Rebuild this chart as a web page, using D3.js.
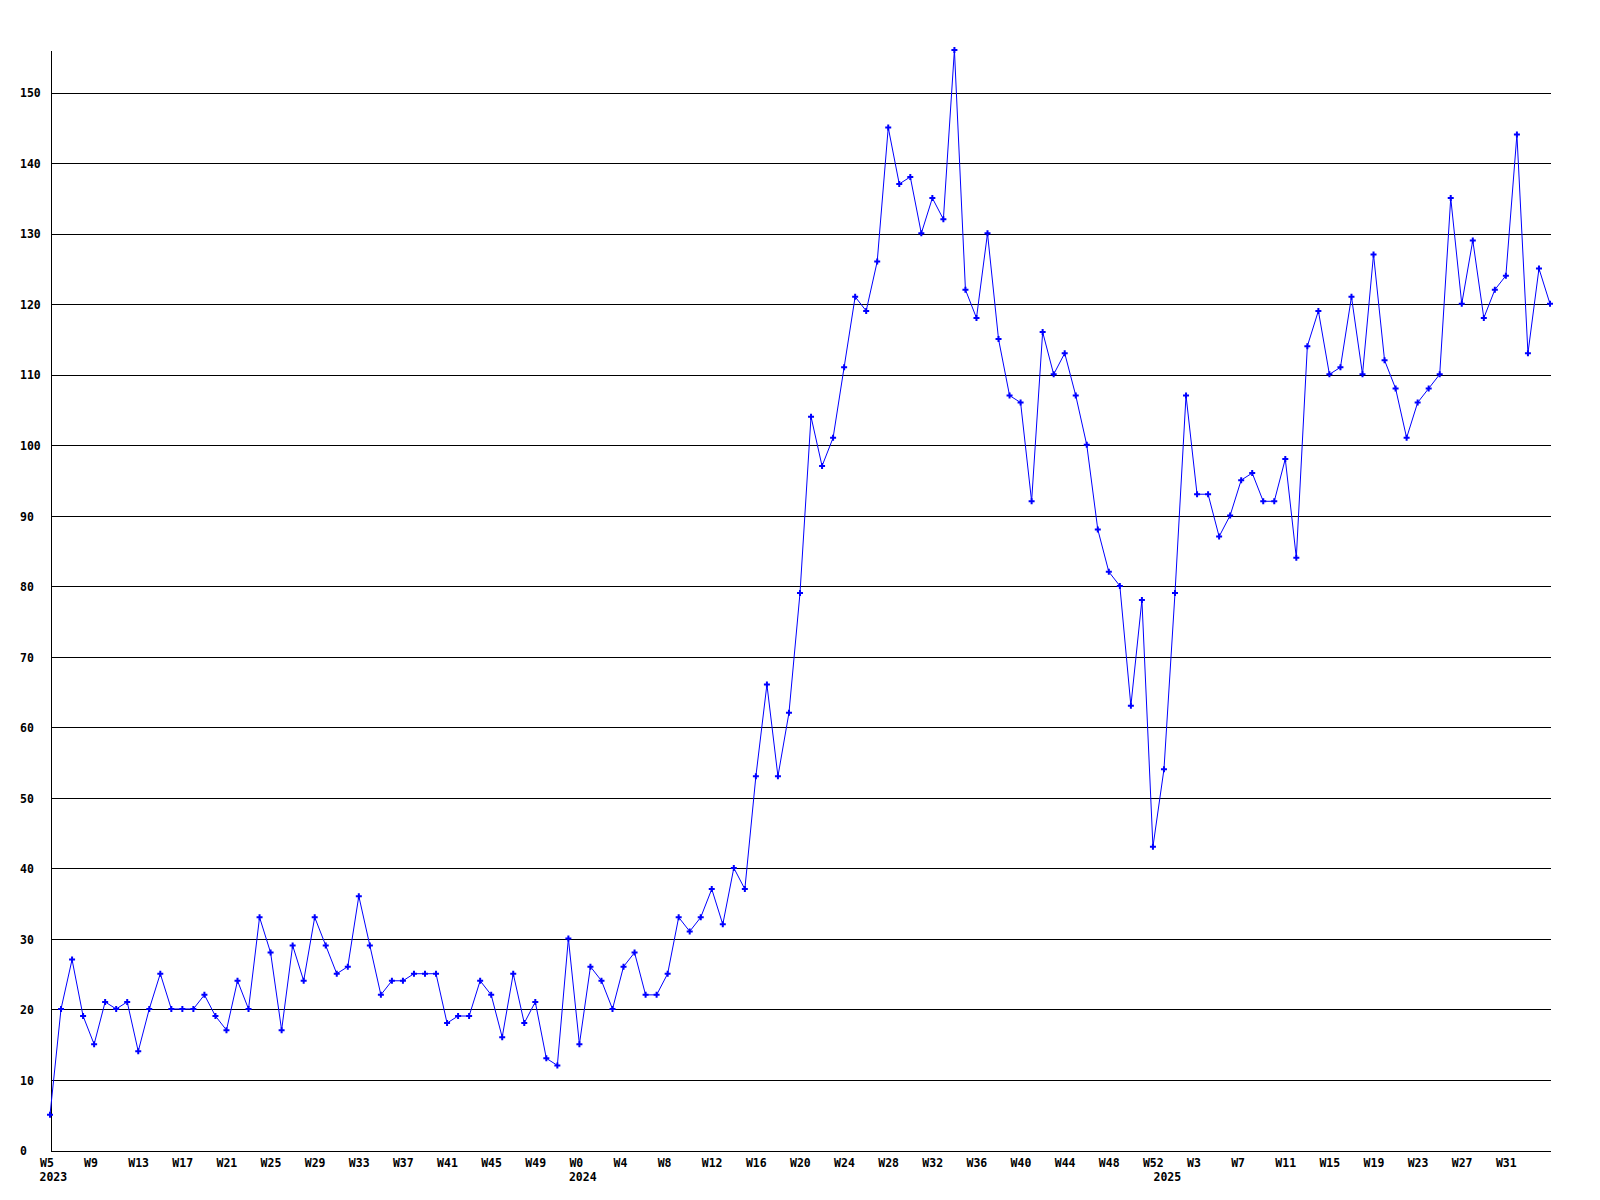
<!DOCTYPE html>
<html>
<head>
<meta charset="utf-8">
<script src="https://cdn.jsdelivr.net/npm/d3@7"></script>
<style>
  html, body { margin: 0; padding: 0; background: #ffffff; }
  svg { display: block; }
  text { font-family: "DejaVu Sans Mono", "Liberation Mono", monospace; font-weight: bold; font-size: 11.5px; fill: #000; }
</style>
</head>
<body>
<svg id="chart" width="1600" height="1200"></svg>
<script>
// ---- Data ----
const years = [2023, 2024, 2025];
const weeks2023 = d3.range(5, 53);   // W5..W52
const weeks2024 = d3.range(0, 53);   // W0..W52
const weeks2025 = d3.range(0, 36);   // W0..W35

const values2023 = [5, 20, 27, 19, 15, 21, 20, 21, 14, 20, 25, 20, 20, 20, 22, 19, 17, 24, 20, 33,
                    28, 17, 29, 24, 33, 29, 25, 26, 36, 29, 22, 24, 24, 25, 25, 25, 18, 19, 19, 24,
                    22, 16, 25, 18, 21, 13, 12, 30];
const values2024 = [15, 26, 24, 20, 26, 28, 22, 22, 25, 33, 31, 33, 37, 32, 40, 37, 53, 66, 53, 62,
                    79, 104, 97, 101, 111, 121, 119, 126, 145, 137, 138, 130, 135, 132, 156, 122, 118, 130, 115, 107,
                    106, 92, 116, 110, 113, 107, 100, 88, 82, 80, 63, 78, 43];
const values2025 = [54, 79, 107, 93, 93, 87, 90, 95, 96, 92, 92, 98, 84, 114, 119, 110, 111, 121, 110, 127,
                    112, 108, 101, 106, 108, 110, 135, 120, 129, 118, 122, 124, 144, 113, 125, 120];

const tickLabels = ["W5","W9","W13","W17","W21","W25","W29","W33","W37","W41","W45","W49",
                    "W0","W4","W8","W12","W16","W20","W24","W28","W32","W36","W40","W44","W48","W52",
                    "W3","W7","W11","W15","W19","W23","W27","W31"];
const yTicks = [0, 10, 20, 30, 40, 50, 60, 70, 80, 90, 100, 110, 120, 130, 140, 150];

// ---- Build table ----
const rows = [];
[[2023, weeks2023, values2023], [2024, weeks2024, values2024], [2025, weeks2025, values2025]]
  .forEach(([yr, wks, vals]) => wks.forEach((w, i) => rows.push({ key: yr + "-W" + w, year: yr, week: w, value: vals[i] })));

const keys = rows.map(d => d.key);
const tickKeys = keys.filter((k, i) => i % 4 === 0);
const labelByKey = new Map(tickKeys.map((k, i) => [k, tickLabels[i]]));
const yearStartKeys = years.map(yv => rows.find(r => r.year === yv).key);

// ---- Layout ----
const plotLeft = 50, plotRight = 1550, plotTop = 50, plotBottom = 1150;
const svg = d3.select("#chart");

const x = d3.scalePoint().domain(keys).range([plotLeft, plotRight]);
const y = d3.scaleLinear().domain([0, d3.max(rows, d => d.value)]).range([plotBottom, plotTop]);

// Y axis with gridlines
const yAxis = svg.append("g")
  .attr("transform", `translate(${plotLeft + 0.5},0.5)`)
  .call(d3.axisLeft(y).tickValues(yTicks).tickSize(-(plotRight - plotLeft)).tickSizeOuter(0).tickFormat(d3.format("d")));
yAxis.attr("font-family", null).attr("font-size", null);
yAxis.selectAll("line").attr("stroke", "#000").attr("shape-rendering", "crispEdges");
yAxis.select(".domain").attr("stroke", "#000").attr("shape-rendering", "crispEdges");
yAxis.selectAll("text")
  .attr("x", -30.5)
  .attr("text-anchor", "start")
  .attr("dy", "0.36em");

// X axis
const xAxis = svg.append("g")
  .attr("transform", `translate(0.5,${plotBottom + 0.5})`)
  .call(d3.axisBottom(x).tickValues(tickKeys).tickSize(0).tickSizeOuter(0).tickFormat(k => labelByKey.get(k)));
xAxis.attr("font-family", null).attr("font-size", null);
xAxis.select(".domain").attr("stroke", "#000").attr("shape-rendering", "crispEdges");
xAxis.selectAll("text")
  .attr("text-anchor", "start")
  .attr("x", -11)
  .attr("y", 8)
  .attr("dy", "0.71em");

// Year labels
svg.append("g").selectAll("text")
  .data(yearStartKeys)
  .join("text")
  .attr("x", k => x(k) - 10.5)
  .attr("y", plotBottom + 23)
  .attr("dy", "0.71em")
  .attr("text-anchor", "start")
  .text(k => k.split("-")[0]);

// Line
const line = d3.line().x(d => x(d.key)).y(d => y(d.value));
svg.append("path")
  .datum(rows)
  .attr("d", line)
  .attr("fill", "none")
  .attr("stroke", "#0000ff")
  .attr("stroke-width", 1);

// Markers
const sym = d3.symbol().type(d3.symbolCross).size(20);
svg.append("g").selectAll("path")
  .data(rows)
  .join("path")
  .attr("transform", d => `translate(${x(d.key)},${y(d.value)})`)
  .attr("d", sym)
  .attr("fill", "#0000ff");
</script>
</body>
</html>
